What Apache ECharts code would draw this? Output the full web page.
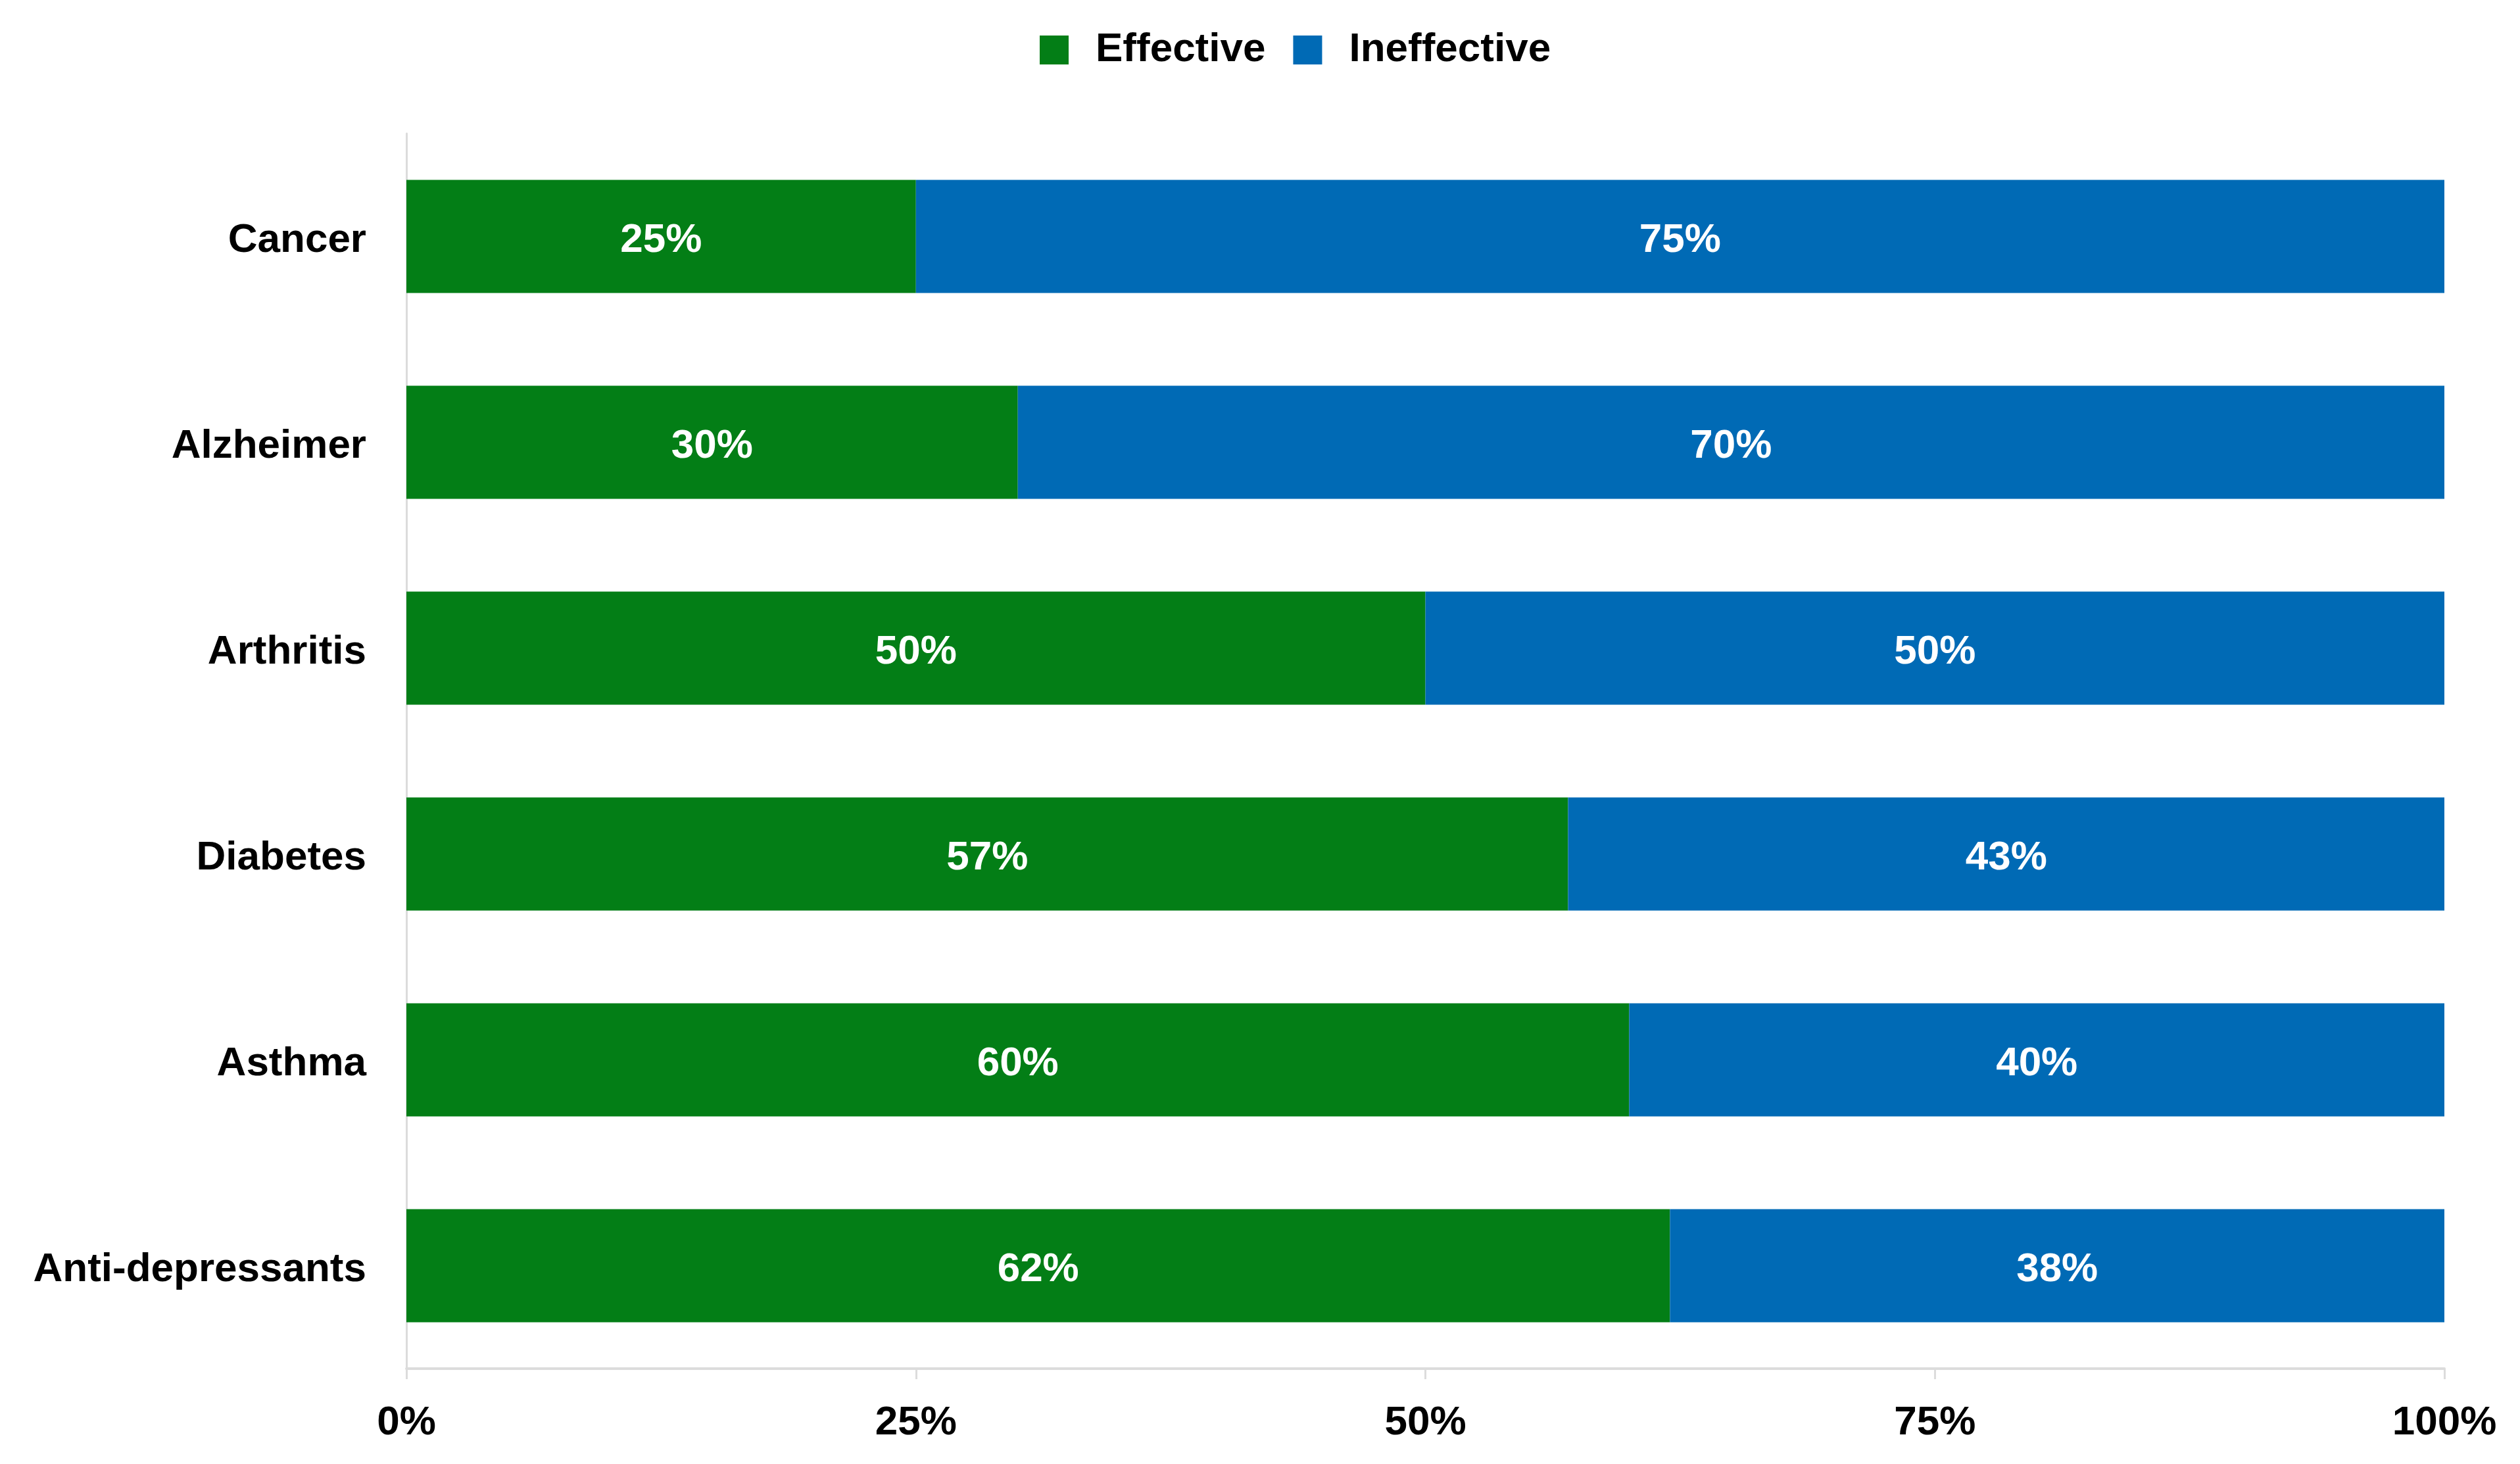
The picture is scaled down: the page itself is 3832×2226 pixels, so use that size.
<!DOCTYPE html>
<html>
<head>
<meta charset="utf-8">
<script src="https://cdn.jsdelivr.net/npm/echarts@6/dist/echarts.min.js"></script>
<style>
	html, body { margin: 0; padding: 0; background: #fff; }
	#chart { width: 3832px; height: 2226px; }
</style>
</head>
<body>
<div id="chart"></div>
<script>
var categories = ['Cancer', 'Alzheimer', 'Arthritis', 'Diabetes', 'Asthma', 'Anti-depressants'];
var effective = [25, 30, 50, 57, 60, 62];
var ineffective = [75, 70, 50, 43, 40, 38];
var seriesNames = ['Effective', 'Ineffective'];
var colors = ['#037E16', '#006AB5'];

var font = 'Liberation Sans, Arial, Helvetica, sans-serif';

var myChart = echarts.init(document.getElementById('chart'));

function barSeries(name, data, color) {
	return {
		name: name,
		type: 'bar',
		stack: 'total',
		barWidth: '55%',
		itemStyle: { color: color },
		label: {
			show: true,
			position: 'inside',
			offset: [0, 6],
			formatter: '{c}%',
			color: '#fff',
			fontFamily: font,
			fontWeight: 'bold',
			fontSize: 62
		},
		data: data
	};
}

var option = {
	animation: false,
	backgroundColor: '#fff',
	legend: {
		top: 40,
		left: 1576,
		itemWidth: 44,
		itemHeight: 44,
		itemGap: 42,
		icon: 'rect',
		textStyle: { fontFamily: font, fontWeight: 'bold', fontSize: 62, color: '#000', padding: [0, 0, 0, 36] },
		data: seriesNames
	},
	grid: { left: 618, right: 115, top: 203, bottom: 145 },
	xAxis: {
		type: 'value',
		min: 0,
		max: 100,
		interval: 25,
		axisLine: { show: true, lineStyle: { color: '#dcdcdc', width: 4 } },
		axisTick: { show: true, length: 16, lineStyle: { color: '#dcdcdc', width: 3 } },
		splitLine: { show: false },
		axisLabel: {
			formatter: '{value}%',
			margin: 52,
			color: '#000',
			fontFamily: font,
			fontWeight: 'bold',
			fontSize: 62
		}
	},
	yAxis: {
		type: 'category',
		inverse: true,
		data: categories,
		axisLine: { show: true, lineStyle: { color: '#dcdcdc', width: 3 } },
		axisTick: { show: false },
		axisLabel: {
			margin: 61,
			formatter: '{a|{value}}',
			rich: {
				a: {
					padding: [12, 0, 0, 0],
					color: '#000',
					fontFamily: font,
					fontWeight: 'bold',
					fontSize: 62
				}
			}
		}
	},
	series: [
		barSeries(seriesNames[0], effective, colors[0]),
		barSeries(seriesNames[1], ineffective, colors[1])
	]
};
myChart.setOption(option);
</script>
</body>
</html>
